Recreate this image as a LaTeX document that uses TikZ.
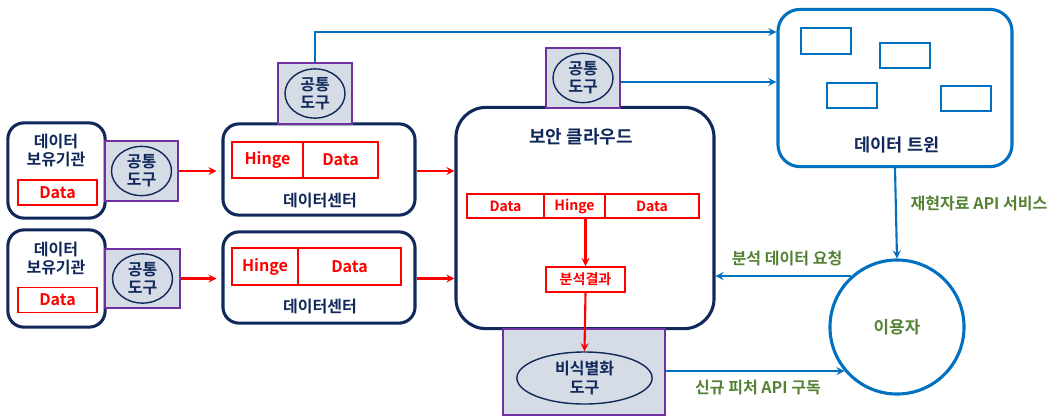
\documentclass[tikz,border=0pt]{standalone}
\usepackage{fontspec}
\setmainfont{Noto Sans CJK KR}[BoldFont={Noto Sans CJK KR Bold}]
\usepackage{tikz}
\usetikzlibrary{arrows,shapes,positioning}
\definecolor{dtnavy}{RGB}{16,40,90}
\definecolor{dtpurple}{RGB}{112,48,160}
\definecolor{dtgray}{RGB}{214,220,229}
\definecolor{dtblue}{RGB}{0,112,192}
\definecolor{dtgreen}{RGB}{84,130,53}
\definecolor{dtred}{RGB}{255,0,0}
\tikzstyle{redarrow} = [line width=1.5pt,->,>=stealth,color=dtred]
\tikzstyle{bluearrow} = [line width=1.5pt,->,>=stealth,color=dtblue]
\tikzstyle{navybox} = [rectangle, rounded corners=0.4cm, draw=dtnavy, fill=white, line width=2.2pt]
\tikzstyle{toolbox} = [rectangle, draw=dtpurple, fill=dtgray, line width=1.8pt]
\tikzstyle{toolellipse} = [ellipse, draw=dtnavy, line width=1pt, inner sep=0pt, align=center, text=dtnavy, font=\fontsize{11.4}{12.8}\selectfont\bfseries]
\tikzstyle{redcell} = [rectangle, draw=dtred, line width=1.2pt, inner sep=0pt, text=dtred, font=\fontsize{11.4}{13}\selectfont\bfseries]
\tikzstyle{smallcell} = [redcell, minimum height=0.6cm, font=\fontsize{10}{12}\selectfont\bfseries]
\tikzstyle{twincell} = [rectangle, draw=dtblue, line width=1.5pt, minimum width=1.25cm, minimum height=0.63cm]
\tikzstyle{navylabel} = [text=dtnavy, align=center, font=\fontsize{11.4}{12.8}\selectfont\bfseries]
\tikzstyle{greenlabel} = [text=dtgreen, font=\fontsize{11.4}{13}\selectfont\bfseries]

\begin{document}
\begin{tikzpicture}[x=0.025cm, y=-0.025cm]
\useasboundingbox (0,0) rectangle (1059,416);

% data holders
\node[navybox, minimum width=2.43cm, minimum height=2.38cm] (org1) at (56.5,170.5) {};
\node[navylabel] (orglbl1) at (56,150) {데이터\\보유기관};
\node[redcell, minimum width=1.98cm, minimum height=0.63cm] (orgdata1) at (57.5,192.5) {Data};
\node[navybox, minimum width=2.43cm, minimum height=2.43cm] (org2) at (56.5,278.5) {};
\node[navylabel] (orglbl2) at (56,258) {데이터\\보유기관};
\node[redcell, minimum width=1.98cm, minimum height=0.63cm] (orgdata2) at (57.5,300) {Data};

% data centers
\node[navybox, minimum width=4.8cm, minimum height=2.28cm] (dc1) at (319,169.5) {};
\node[redcell, minimum width=1.78cm, minimum height=0.9cm] (dchinge1) at (267.5,160) {Hinge};
\node[redcell, minimum width=1.88cm, minimum height=0.9cm] (dcdata1) at (340.5,160) {Data};
\node[navylabel] (dclbl1) at (320,200) {데이터센터};
\node[navybox, minimum width=4.8cm, minimum height=2.28cm] (dc2) at (319,277.5) {};
\node[redcell, minimum width=1.65cm, minimum height=0.93cm] (dchinge2) at (265,266.5) {Hinge};
\node[redcell, minimum width=2.58cm, minimum height=0.93cm] (dcdata2) at (349.5,266.5) {Data};
\node[navylabel] (dclbl2) at (320,306) {데이터센터};

% secure cloud
\node[navybox, rounded corners=0.75cm, minimum width=6.45cm, minimum height=5.53cm] (cloud) at (585,218) {};
\node[navylabel, font=\fontsize{12.8}{14}\selectfont\bfseries] (cloudlbl) at (581,137) {보안 클라우드};
\node[smallcell, minimum width=1.93cm] (cldata1) at (505.5,206) {Data};
\node[smallcell, minimum width=1.53cm] (clhinge) at (574.5,206) {Hinge};
\node[smallcell, minimum width=2.35cm] (cldata2) at (652,206) {Data};
\node[smallcell, minimum width=1.98cm, minimum height=0.63cm] (result) at (585.5,279.5) {분석결과};

% common tools
\node[toolbox, minimum width=1.83cm, minimum height=1.5cm] (tool1) at (141.5,171) {};
\node[toolellipse, minimum width=1.5cm, minimum height=1.23cm] (toolin1) at (141.5,171) {공통\\도구};
\node[toolbox, minimum width=1.88cm, minimum height=1.48cm] (tool2) at (142.5,278.5) {};
\node[toolellipse, minimum width=1.5cm, minimum height=1.23cm] (toolin2) at (142.5,278.5) {공통\\도구};
\node[toolbox, minimum width=1.85cm, minimum height=1.53cm] (tool3) at (315,93.5) {};
\node[toolellipse, minimum width=1.5cm, minimum height=1.23cm] (toolin3) at (315,93.5) {공통\\도구};
\node[toolbox, minimum width=1.85cm, minimum height=1.5cm] (tool4) at (583,78) {};
\node[toolellipse, minimum width=1.5cm, minimum height=1.23cm] (toolin4) at (583,78) {공통\\도구};

% de-identification tool
\node[toolbox, minimum width=4.05cm, minimum height=2.15cm] (deid) at (584,372) {};
\node[toolellipse, minimum width=3.38cm, minimum height=1.3cm, font=\fontsize{11.4}{13.5}\selectfont\bfseries] (deidin) at (584.5,378) {비식별화\\도구};

% data twin
\node[rectangle, rounded corners=0.55cm, draw=dtblue, line width=2.2pt, minimum width=5.85cm, minimum height=3.93cm] (twin) at (895,88) {};
\node[twincell] (tc1) at (826,41) {};
\node[twincell] (tc2) at (905,55.5) {};
\node[twincell] (tc3) at (852,95.5) {};
\node[twincell] (tc4) at (966,98.5) {};
\node[navylabel, font=\fontsize{12.5}{14}\selectfont\bfseries] (twinlbl) at (897,145) {데이터 트윈};

% user
\node[circle, draw=dtblue, line width=2.2pt, minimum size=3.35cm, text=dtgreen, font=\fontsize{12}{14}\selectfont\bfseries] (user) at (897,327) {이용자};

% red flows
\draw[redarrow, shorten >=3.5pt] (tool1.east) -- (tool1.east -| dc1.west);
\draw[redarrow, shorten >=3.5pt] (tool2.east) -- (tool2.east -| dc2.west);
\draw[redarrow] (dc1.east |- tool1.east) -- (cloud.west |- tool1.east);
\draw[redarrow] (dc2.east |- tool2.east) -- (cloud.west |- tool2.east);
\draw[redarrow] (result.north |- clhinge.south) -- (result.north);
\draw[redarrow] (result.south) -- (deidin.north);

% blue flows
\draw[bluearrow] (tool3.north) |- (twin.west |- 0,32);
\draw[bluearrow] (tool4.east |- 0,82) -- (twin.west |- 0,82);
\draw[bluearrow] (twin.south) -- (user.north);
\draw[bluearrow] (user.132) -- (user.132 -| cloud.east);
\draw[bluearrow] (user.220 -| deid.east) -- (user.220);

% labels
\node[greenlabel] (reqlbl) at (787,258) {분석 데이터 요청};
\node[greenlabel] (apilbl) at (979,203) {재현자료 API 서비스};
\node[greenlabel] (sublbl) at (758,387) {신규 피처 API 구독};
\end{tikzpicture}
\end{document}
